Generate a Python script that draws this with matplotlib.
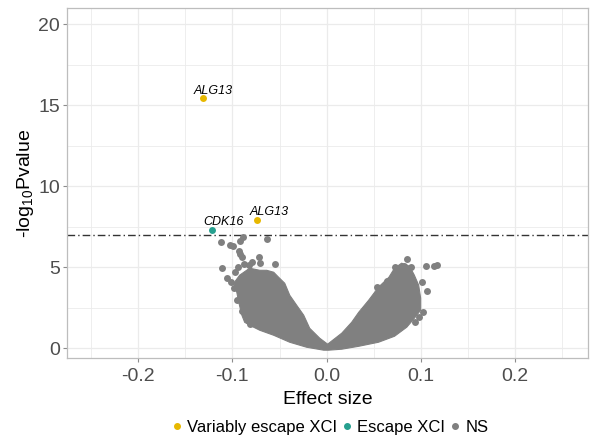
import numpy as np
import matplotlib.pyplot as plt
from matplotlib.lines import Line2D

plt.rcParams["font.family"] = ["Liberation Sans", "DejaVu Sans"]
plt.rcParams["axes.unicode_minus"] = False
plt.rcParams["mathtext.fontset"] = "custom"
plt.rcParams["mathtext.rm"] = "Liberation Sans"
plt.rcParams["mathtext.it"] = "Liberation Sans:italic"

# highlighted genes (effect size, -log10 p)
hl_genes = ["ALG13", "ALG13", "CDK16"]
hl_x = [-0.1315, -0.0742, -0.122]
hl_y = [15.43, 7.90, 7.28]
hl_group = ["Variably escape XCI", "Variably escape XCI", "Escape XCI"]
lab_x = [-0.120, -0.0615, -0.110]
lab_y = [15.86, 8.40, 7.78]

# outline of the dense NS cloud
cloud_x = [0.002, -0.0032, -0.0212, -0.0392, -0.0562, -0.071, -0.0817, -0.087,
           -0.090, -0.0933, -0.0954, -0.0986, -0.0923, -0.0817, -0.071, -0.0636,
           -0.0562, -0.051, -0.0445, -0.0392, -0.0318, -0.0244, -0.018, -0.0074,
           0.001,
           0.016, 0.0265, 0.034, 0.0445, 0.055, 0.066, 0.072,
           0.0795, 0.088, 0.093, 0.0976, 0.0997, 0.0997, 0.093, 0.085, 0.072,
           0.055, 0.034, 0.016]
cloud_y = [-0.12, -0.12, 0.06, 0.37, 0.80, 1.11, 1.42, 1.60,
           2.04, 2.84, 3.46, 4.01, 4.51, 4.94, 4.81, 4.81,
           4.69, 4.38, 4.01, 3.27, 2.65, 2.04, 1.23, 0.62,
           0.25,
           0.93, 1.60, 2.22, 2.96, 3.77, 4.38, 4.94,
           5.25, 5.06, 4.51, 3.89, 3.09, 2.35, 1.85, 1.30, 0.74,
           0.37, 0.12, -0.06]

# scattered NS points outside / on the edge of the dense part
ns_x = [-0.1124, -0.103, -0.0997, -0.0923, -0.089, -0.0933, -0.0923, -0.090,
        -0.072, -0.111, -0.106, -0.0976, -0.0944, -0.088, -0.0827, -0.0795,
        -0.071, -0.0636, -0.055, -0.102, -0.0986, -0.0954, -0.090, -0.0817,
        0.105, 0.1135, 0.1166, 0.106, 0.085, 0.102, 0.0817, 0.073, 0.089,
        0.0636, 0.053, 0.1007, 0.098, 0.094]
ns_y = [6.54, 6.36, 6.30, 6.60, 6.85, 5.99, 5.80, 5.62,
        5.62, 4.94, 4.32, 4.69, 5.00, 5.19, 5.12, 5.31,
        5.25, 6.73, 5.19, 4.07, 3.70, 3.00, 2.30, 1.50,
        5.06, 5.06, 5.12, 3.52, 5.49, 2.22, 5.06, 5.00, 5.00,
        4.14, 3.77, 4.07, 1.95, 1.60]

threshold = 7.0

colors = {"Variably escape XCI": "#E7B800", "Escape XCI": "#26A08F", "NS": "#808080"}
grid_c = "#EBEBEB"
text_c = "#4D4D4D"

fig = plt.figure(figsize=(5.9, 4.36), dpi=100)
ax = fig.add_axes([0.1136, 0.179, 0.8834, 0.8027])

ax.fill(cloud_x, cloud_y, color=colors["NS"], lw=0.8, zorder=3)
ax.scatter(ns_x, ns_y, s=25, color=colors["NS"], lw=0, zorder=3)
for x, y, g in zip(hl_x, hl_y, hl_group):
    ax.scatter(x, y, s=25, color=colors[g], lw=0, zorder=4)
for t, x, y in zip(hl_genes, lab_x, lab_y):
    ax.text(x, y, t, fontsize=9, style="italic", ha="center", va="center", zorder=5)

ax.axhline(threshold, color="#333333", lw=1, dashes=(5.5, 2.2, 1, 2.2), zorder=2)

ax.set_xlim(-0.2755, 0.2775)
ax.set_ylim(-0.6, 21.0)
ax.set_xticks([-0.2, -0.1, 0.0, 0.1, 0.2])
ax.set_xticklabels(["-0.2", "-0.1", "0.0", "0.1", "0.2"])
ax.set_yticks([0, 5, 10, 15, 20])
ax.set_xticks(np.arange(-0.25, 0.26, 0.1), minor=True)
ax.set_yticks([2.5, 7.5, 12.5, 17.5], minor=True)
ax.grid(True, which="major", color=grid_c, lw=0.9, zorder=0)
ax.grid(True, which="minor", color=grid_c, lw=0.6, zorder=0)
ax.set_axisbelow(True)
for s in ax.spines.values():
    s.set_color("#BDBDBD")
    s.set_linewidth(0.9)
ax.tick_params(which="major", length=3, color="#8C8C8C", labelsize=14,
               labelcolor=text_c, pad=2)
ax.tick_params(axis="x", which="major", pad=4.5)
ax.tick_params(which="minor", length=0)

ax.set_xlabel("Effect size", fontsize=14, labelpad=4)
ax.set_ylabel("-log$_{10}$Pvalue", fontsize=14, labelpad=2)

handles = [Line2D([], [], marker="o", ls="", ms=4, color=colors[k]) for k in colors]
fig.legend(handles, list(colors.keys()), loc="center", bbox_to_anchor=(0.56, 0.02),
           ncol=3, frameon=False, fontsize=12, handletextpad=0.3, columnspacing=0.3,
           handlelength=0.6)

fig.savefig("out.png", dpi=100)
